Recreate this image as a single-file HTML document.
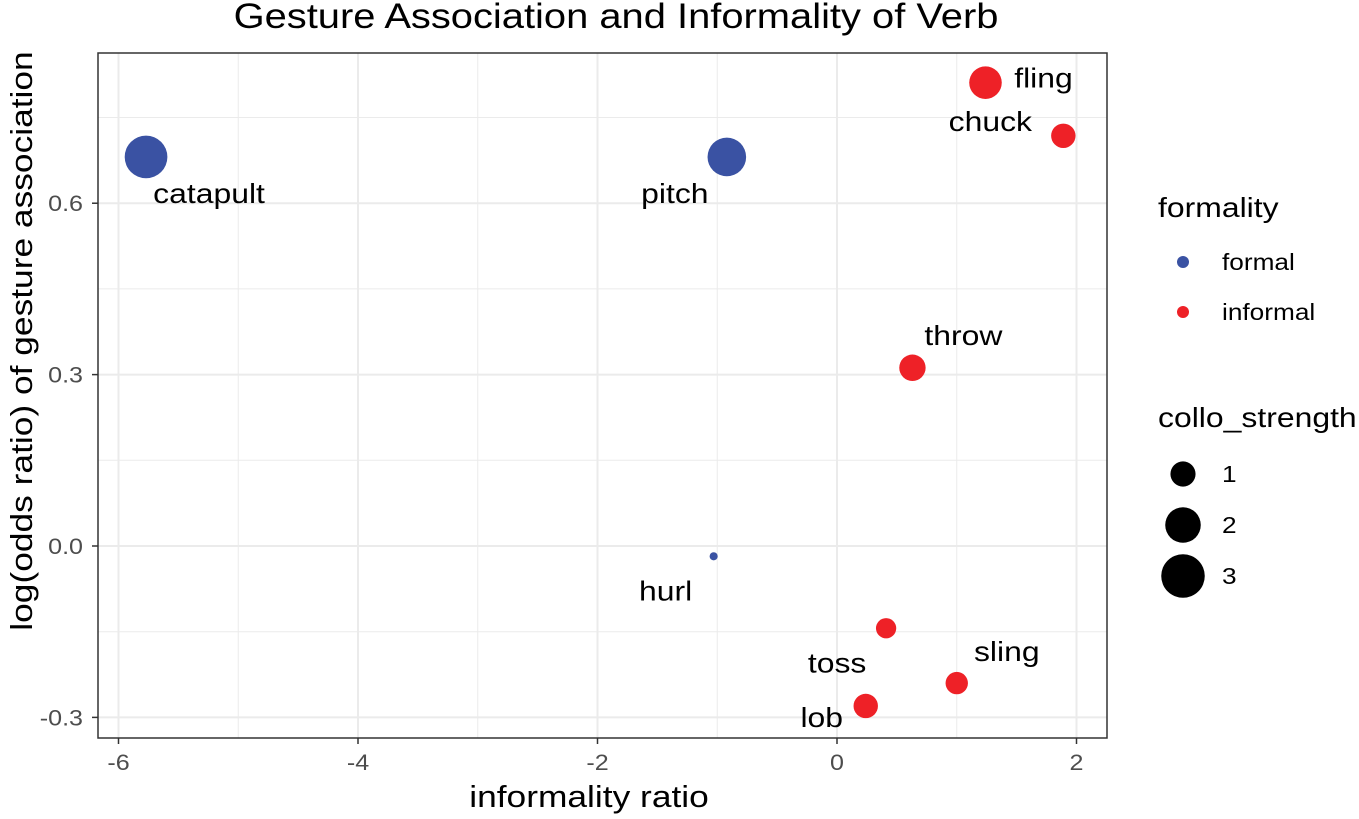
<!DOCTYPE html>
<html><head><meta charset="utf-8"><style>
body{margin:0;background:#fff;font-family:"Liberation Sans",Arial,sans-serif}
</style></head><body>
<svg id="c" width="1359" height="814" xmlns="http://www.w3.org/2000/svg" font-family="Liberation Sans, Arial, sans-serif">
<g id="grid"></g>
<g id="pts"></g>
<rect x="98" y="53" width="1009" height="685" fill="none" stroke="#333" stroke-width="1.5"/>
<g id="axes" fill="#4d4d4d"></g>
<g id="txt"></g>
<g>
<circle cx="1183" cy="262" r="6" fill="#3a52a3"/>
<circle cx="1183" cy="312" r="6" fill="#ee2127"/>
</g>
<g id="sizeleg"></g>
</svg>
<script>
const labels=["catapult","pitch","fling","chuck","throw","hurl","toss","sling","lob"];
const xVals=[-5.77,-0.92,1.24,1.89,0.63,-1.03,0.41,1.0,0.24];
const yVals=[0.681,0.681,0.811,0.718,0.312,-0.018,-0.144,-0.24,-0.28];
const strength=[3.06,2.5,1.78,1.0,1.17,0.11,0.69,0.84,1.0];
const formality=["formal","formal","informal","informal","informal","formal","informal","informal","informal"];
const labelDx=[63,-52,58,-73,51,-48,-49,50,-44];
const labelDy=[46,46,5,-5,-23,44,44,-22,21];
const xTicks=[-6,-4,-2,0,2];
const yTicks=[-0.3,0,0.3,0.6];
const yTickLabels=["-0.3","0.0","0.3","0.6"];
const sizeLegend=[1,2,3];
const NS="http://www.w3.org/2000/svg";
const SX=1.14;
const X=v=>837+v*119.75, Y=v=>546-v*571.3;
const R=v=>12.2*Math.sqrt(v);
function mk(t,a,p){const e=document.createElementNS(NS,t);for(const k in a)e.setAttribute(k,a[k]);p.appendChild(e);return e;}
function T(x,y,s,size,anchor,p,fill,rot){
 const g=mk('g',{transform:'translate('+x+','+y+')'+(rot?' rotate('+rot+')':'')+' scale('+SX+',1)'},p);
 const t=mk('text',{x:0,y:0,'font-size':size,'text-anchor':anchor,fill:fill||'#000'},g);
 t.textContent=s;return t;}
const g=document.getElementById('grid'), ax=document.getElementById('axes'), pts=document.getElementById('pts'), tx=document.getElementById('txt');
for(let v=-7;v<=3;v++){const px=X(v);if(px<98||px>1107)continue;
 const l=mk('line',{x1:px,x2:px,y1:53,y2:738,stroke:'#ebebeb','stroke-width':v%2===0?2:1},g);
 
 }
for(let v=-0.45;v<=0.9;v+=0.15){const py=Y(v);if(py<53||py>738)continue;
 const major=Math.abs(Math.round(v/0.3)*0.3-v)<1e-6;
 const l=mk('line',{x1:98,x2:1107,y1:py,y2:py,stroke:'#ebebeb','stroke-width':major?2:1},g);
 
 }
xTicks.forEach(v=>{const px=X(v);
 const t=mk('line',{x1:px,x2:px,y1:738,y2:744,stroke:'#333','stroke-width':1.5},ax);
 
 
 const l=T(px,770,v<0?'-'+Math.abs(v):String(v),22,'middle',ax,'#4d4d4d');
 
 });
yTicks.forEach((v,i)=>{const py=Y(v);
 const t=mk('line',{x1:92,x2:98,y1:py,y2:py,stroke:'#333','stroke-width':1.5},ax);
 
 
 const l=T(83,py+8,yTickLabels[i],22,'end',ax,'#4d4d4d');
 
 });
labels.forEach((n,i)=>{const cx=X(xVals[i]),cy=Y(yVals[i]);
 const c=mk('circle',{cx:cx,cy:cy,r:R(strength[i]),fill:formality[i]==='formal'?'#3a52a3':'#ee2127'},pts);
 
 
 const t=T(cx+labelDx[i],cy+labelDy[i],n,28,'middle',pts);
 
 });
let e;
e=T(616,28,'Gesture Association and Informality of Verb',35,'middle',tx);


e=T(589,807,'informality ratio',31,'middle',tx);


e=T(32,341,'log(odds ratio) of gesture association',31,'middle',tx,'#000',-90);


e=T(1158,217,'formality',28,'start',tx);


e=T(1222,270,'formal',23,'start',tx);


e=T(1222,320,'informal',23,'start',tx);


e=T(1158,427,'collo_strength',28,'start',tx);


const sl=document.getElementById('sizeleg');
sizeLegend.forEach((v,i)=>{const cy=474+i*51;
 const c=mk('circle',{cx:1183,cy:cy,r:R(v)*1.03,fill:'#000'},sl);
 
 
 const t=T(1222,cy+8,String(v),23,'start',sl);
 
 });
</script>
</body></html>
